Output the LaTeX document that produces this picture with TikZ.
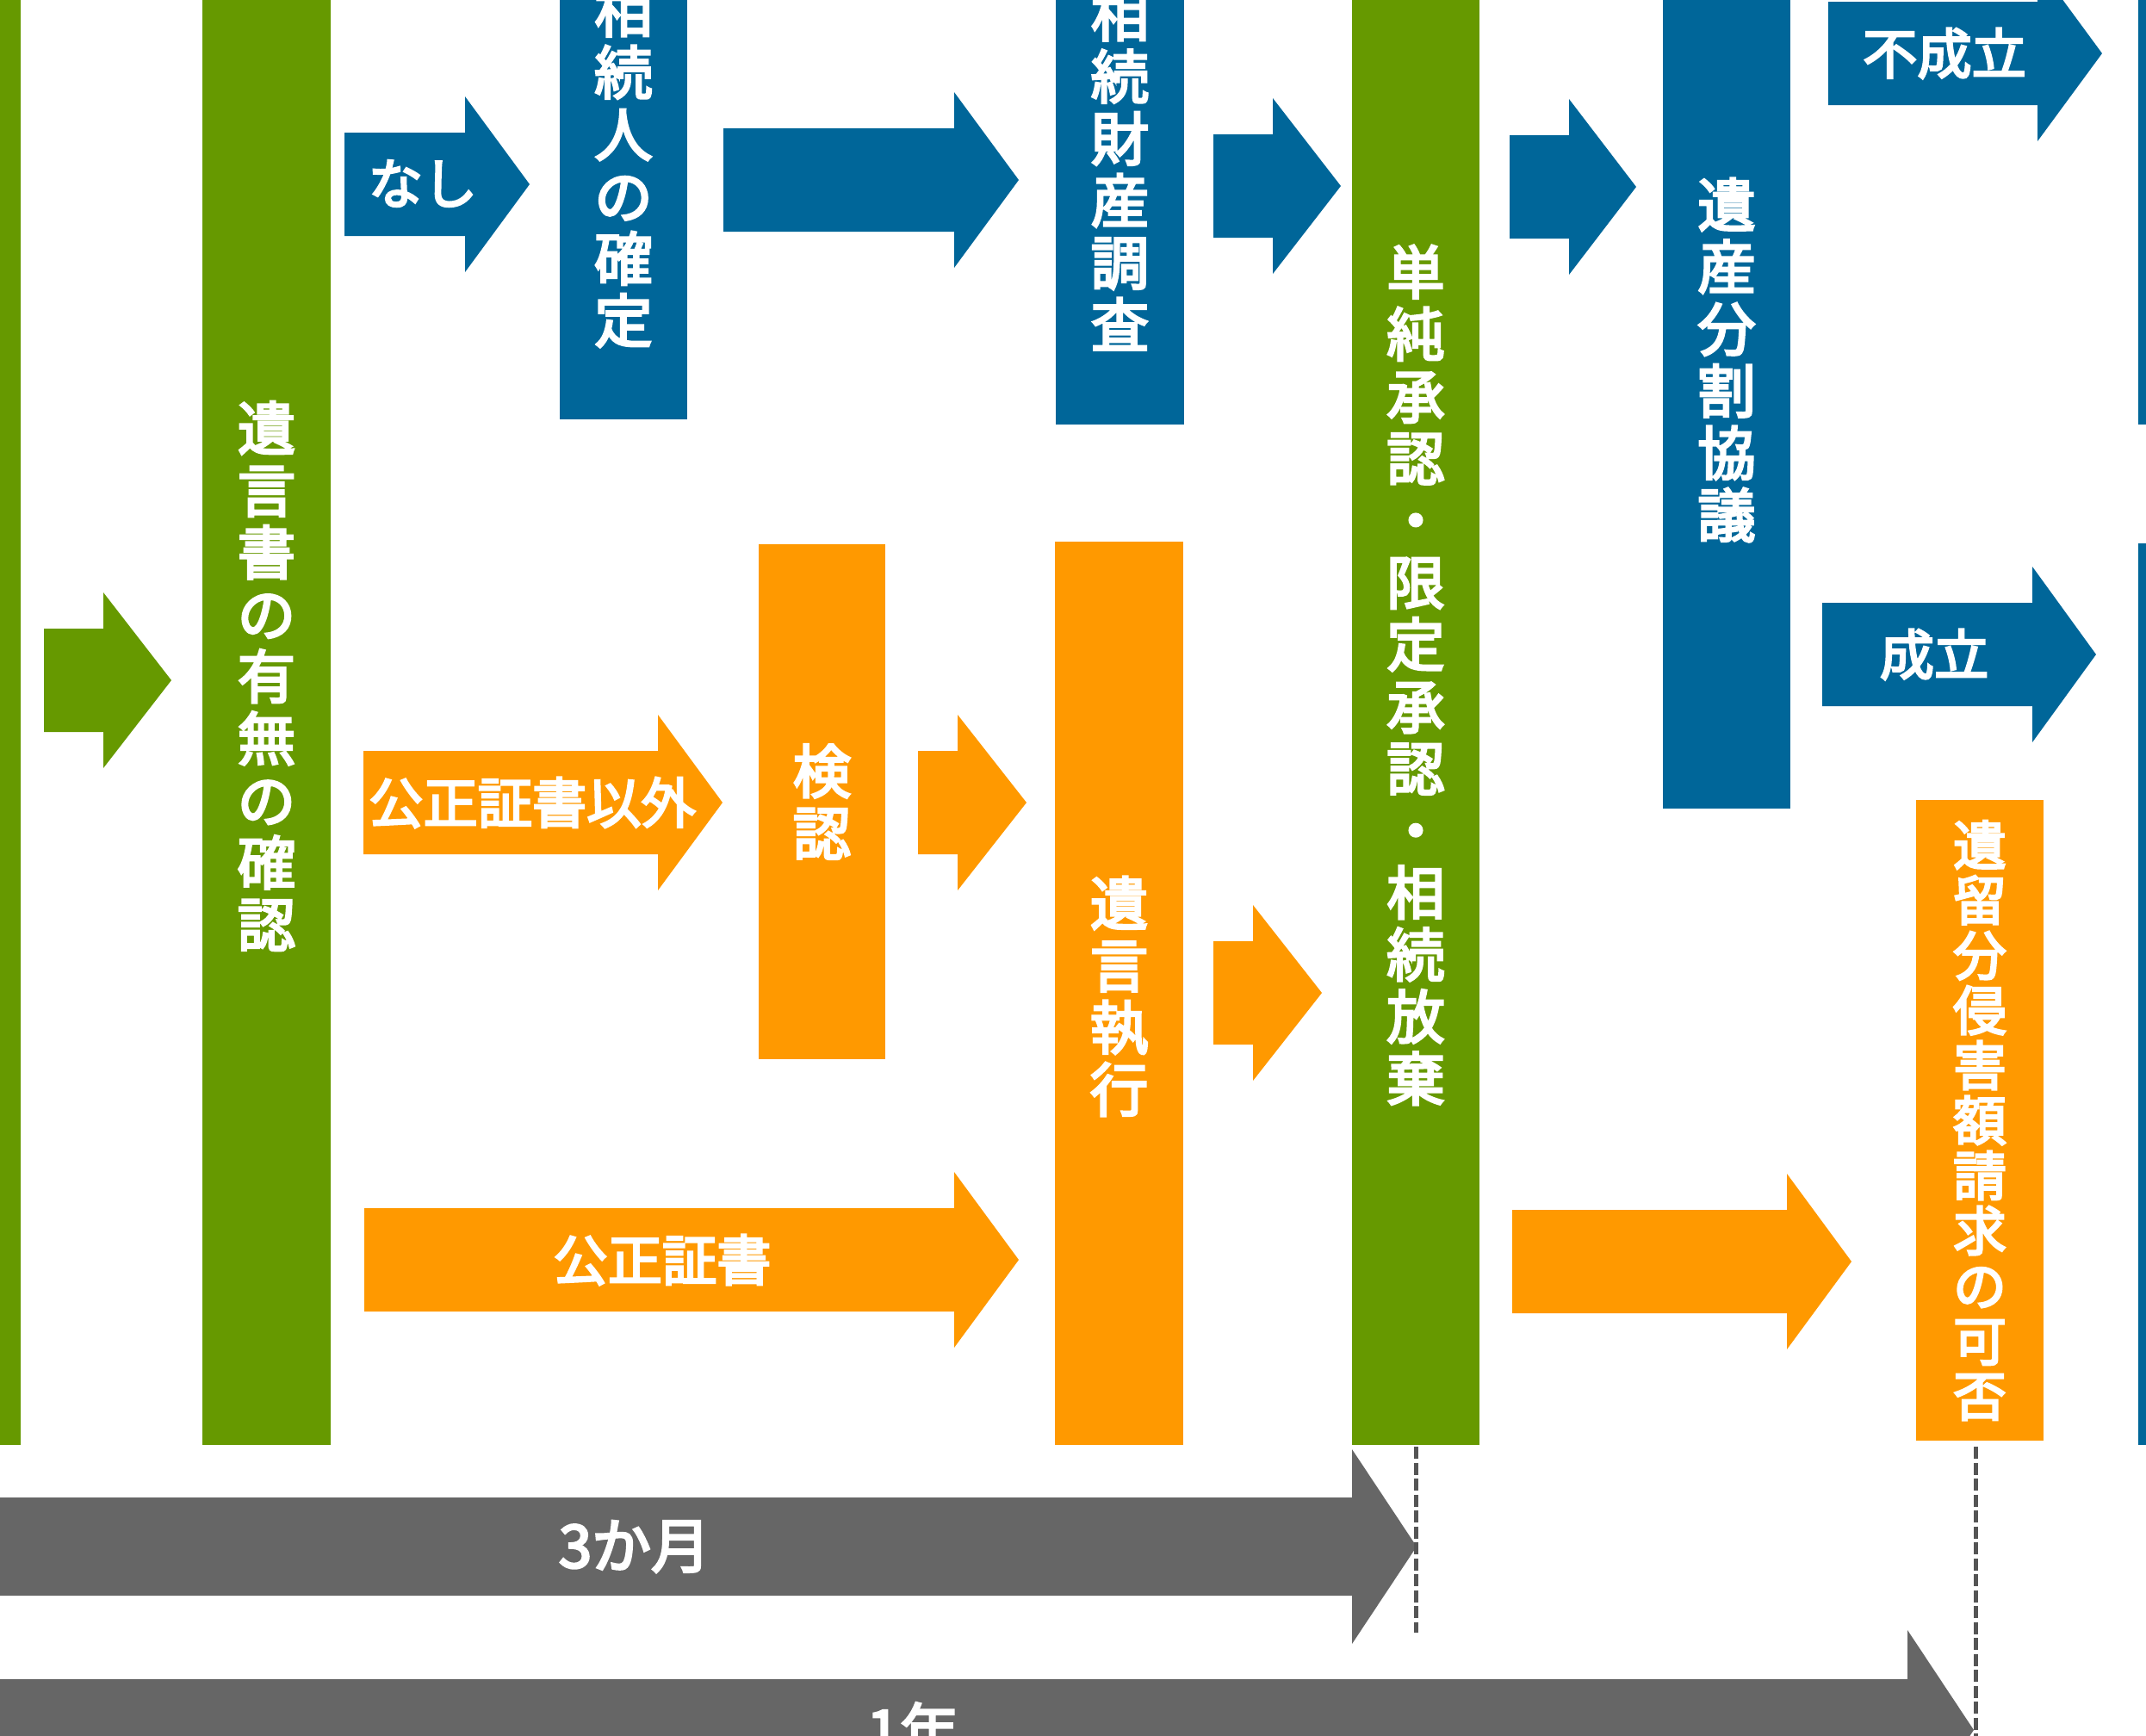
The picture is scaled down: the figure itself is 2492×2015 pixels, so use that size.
\documentclass[tikz,border=0pt]{standalone}
\usepackage{fontspec}
\setmainfont{Noto Sans CJK JP}
\newfontfamily\medium{Noto Sans CJK JP}[FakeBold=4]
\usepackage{tikz}
\usetikzlibrary{positioning}
\definecolor{kgreen}{HTML}{669900}
\definecolor{kblue}{HTML}{006699}
\definecolor{korange}{HTML}{FF9900}
\definecolor{kgray}{HTML}{666666}
\definecolor{kdash}{HTML}{555555}

% block arrow: colour, start x, head x, tip x, centre y, half body, half head
\newcommand{\blockarrow}[7]{%
  \fill[#1] (#2,#5-#6) -- (#3,#5-#6) -- (#3,#5-#7) -- (#4,#5)
    -- (#3,#5+#7) -- (#3,#5+#6) -- (#2,#5+#6) -- cycle;}

\begin{document}
\begin{tikzpicture}[x=0.1mm, y=-0.1mm,
    vlabel/.style={text=white, inner sep=0pt, align=center, font=\medium\fontsize{19.2pt}{20.5pt}\selectfont},
    slabel/.style={text=white, inner sep=0pt, align=center, font=\medium\fontsize{17.6pt}{18.2pt}\selectfont},
    hlabel/.style={text=white, inner sep=0pt, font=\medium\fontsize{18pt}{20pt}\selectfont},
    glabel/.style={text=white, inner sep=0pt, font=\medium\fontsize{19.6pt}{20pt}\selectfont},
    limit/.style={draw=kdash, line width=0.5mm, dash pattern=on 1.4mm off 0.45mm}]

    \useasboundingbox (0,0) rectangle (2492,2015);
    \clip (0,0) rectangle (2492,2015);

    %Bars
    \fill[kgreen] (-50,-50) rectangle (24,1678);
    \fill[kgreen] (235,-50) rectangle (384,1678);
    \fill[kblue] (650,-50) rectangle (798,487);
    \fill[kblue] (1226,-50) rectangle (1375,493);
    \fill[korange] (881,632) rectangle (1028,1230);
    \fill[korange] (1225,629) rectangle (1374,1678);
    \fill[kgreen] (1570,-50) rectangle (1718,1678);
    \fill[kblue] (1931,-50) rectangle (2079,939);
    \fill[korange] (2225,929) rectangle (2373,1673);
    \fill[kblue] (2483,-50) rectangle (2550,493);
    \fill[kblue] (2483,631) rectangle (2550,1678);

    %Arrows
    \blockarrow{kgreen}{51}{120}{199}{790}{60}{102}
    \blockarrow{kblue}{400}{540}{615}{214}{60}{102}
    \blockarrow{kblue}{840}{1108}{1183}{209}{60}{102}
    \blockarrow{kblue}{1409}{1478}{1557}{216}{60}{102}
    \blockarrow{kblue}{1753}{1822}{1900}{217}{60}{102}
    \blockarrow{kblue}{2123}{2366}{2441}{62}{60}{102}
    \blockarrow{kblue}{2116}{2360}{2434}{760}{60}{102}
    \blockarrow{korange}{422}{764}{839}{932}{60}{102}
    \blockarrow{korange}{1066}{1112}{1192}{932}{60}{102}
    \blockarrow{korange}{423}{1108}{1183}{1463}{60}{102}
    \blockarrow{korange}{1409}{1455}{1535}{1153}{60}{102}
    \blockarrow{korange}{1756}{2075}{2150}{1465}{60}{102}
    \blockarrow{kgray}{-50}{1570}{1645}{1796}{57}{113}
    \blockarrow{kgray}{-50}{2215}{2292}{2009}{59}{116}

    %Nodes
    \node[vlabel] (kakunin) at (309.5,785) {遺\\言\\書\\の\\有\\無\\の\\確\\認};
    \node[vlabel] (souzokunin) at (724,192) {相\\続\\人\\の\\確\\定};
    \node[vlabel] (zaisan) at (1300.5,196) {相\\続\\財\\産\\調\\査};
    \node[vlabel] (kennin) at (954.5,931) {検\\認};
    \node[vlabel] (shikkou) at (1299.5,1157) {遺\\言\\執\\行};
    \node[vlabel] (shounin) at (1644,784) {単\\純\\承\\認\\・\\限\\定\\承\\認\\・\\相\\続\\放\\棄};
    \node[vlabel] (bunkatsu) at (2005,418) {遺\\産\\分\\割\\協\\議};
    \node[slabel] (iryubun) at (2299,1301) {遺\\留\\分\\侵\\害\\額\\請\\求\\の\\可\\否};

    \node[hlabel] (nashi) at (491,213) {なし};
    \node[hlabel] (igai) at (618,932) {公正証書以外};
    \node[hlabel] (kousei) at (769,1463) {公正証書};
    \node[hlabel] (fuseiritsu) at (2258,62) {不成立};
    \node[hlabel] (seiritsu) at (2246,760) {成立};
    \node[glabel] (sankagetsu) at (737,1796) {3か月};
    \node[glabel] (ichinen) at (1060,2009) {1年};

    %Lines
    \coordinate (shounin_end) at (1644,1680);
    \coordinate (sankagetsu_end) at (1644,1896);
    \coordinate (iryubun_end) at (2294,1680);
    \coordinate (ichinen_end) at (2294,2030);
    \draw[limit] (shounin_end) -- (sankagetsu_end);
    \draw[limit] (iryubun_end) -- (ichinen_end);

\end{tikzpicture}
\end{document}
